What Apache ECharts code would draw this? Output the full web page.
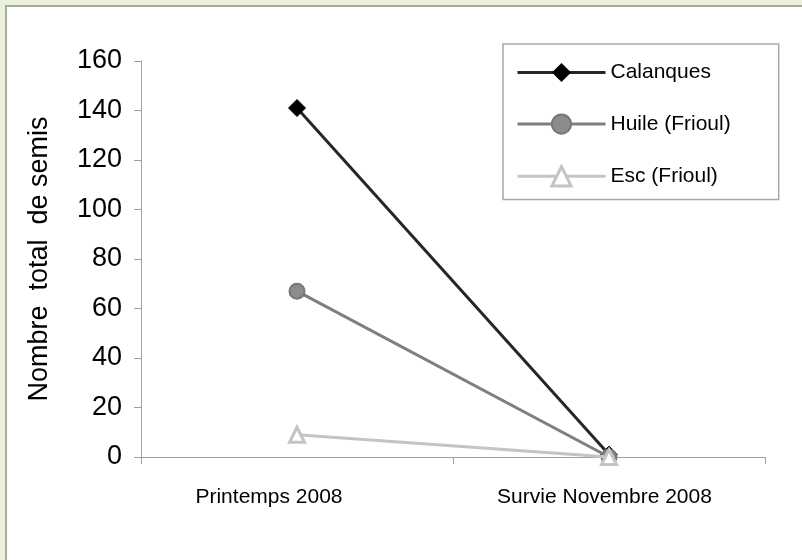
<!DOCTYPE html>
<html><head><meta charset="utf-8">
<script src="https://cdn.jsdelivr.net/npm/echarts@6/dist/echarts.min.js"></script>
<style>
html,body{margin:0;padding:0;width:802px;height:560px;overflow:hidden;background:#e9f0dc;}
#frame{position:absolute;left:5px;top:5px;width:820px;height:600px;background:#fff;border-left:2px solid #a8a8a8;border-top:2px solid #a8a8a8;}
#c{position:absolute;left:0;top:0;width:802px;height:560px;}
</style></head>
<body><div id="frame"></div><div id="c"></div>
<script>
const categories = ['Printemps 2008', 'Survie Novembre 2008'];
const calanques = [141, 1];
const huile = [67, 0];
const esc = [9, 0];
const yTicks = [0, 20, 40, 60, 80, 100, 120, 140, 160];
const yName = 'Nombre  total  de semis';

const chart = echarts.init(document.getElementById('c'), null, {renderer:'canvas'});
const font = 'Liberation Sans, Arial, sans-serif';
chart.setOption({
  animation:false,
  backgroundColor:'transparent',
  textStyle:{fontFamily:font},
  grid:{left:141, right:37, top:61, bottom:103},
  legend:{
    orient:'vertical', left:503, top:44,
    padding:[18, 48, 12, 13],
    borderColor:'#a8a8a8', borderWidth:1.5, backgroundColor:'#fff',
    itemWidth:88, itemHeight:24, itemGap:30.5,
    textStyle:{fontSize:21, color:'#000', fontFamily:font},
    data:[
      {name:'Calanques', lineStyle:{width:3}},
      {name:'Huile (Frioul)', lineStyle:{width:3}},
      {name:'Esc (Frioul)', lineStyle:{width:3}, itemStyle:{borderWidth:3}}
    ]
  },
  xAxis:{
    type:'category', data:categories, boundaryGap:true,
    axisLine:{lineStyle:{color:'#a0a0a0', width:1}},
    axisTick:{show:true, length:7, lineStyle:{color:'#a0a0a0'}},
    axisLabel:{color:'#000', fontSize:21, margin:30, fontFamily:font, interval:0, hideOverlap:false,
      formatter:function(v, i){return (i===0?'{a|':'{b|') + v + '}';},
      rich:{a:{fontSize:21, fontFamily:font, color:'#000', padding:[0,56,0,0]},
            b:{fontSize:21, fontFamily:font, color:'#000', padding:[0,9,0,0]}}}
  },
  yAxis:{
    type:'value', min:0, max:160, interval:20,
    name:yName, nameLocation:'middle', nameGap:88, nameRotate:90,
    nameTextStyle:{fontSize:27, color:'#000', fontFamily:font},
    axisLine:{show:true, lineStyle:{color:'#a0a0a0'}},
    axisTick:{show:true, length:7, lineStyle:{color:'#a0a0a0'}},
    axisLabel:{color:'#000', fontSize:27, margin:19, fontFamily:font,
      formatter:function(v){return yTicks.indexOf(v)>=0? String(v):'';}},
    splitLine:{show:false}
  },
  series:[
    {name:'Calanques', type:'line', data:calanques, symbol:'diamond', symbolSize:17,
      lineStyle:{color:'#262626', width:3}, itemStyle:{color:'#000', borderColor:'#000'}, z:3},
    {name:'Huile (Frioul)', type:'line', data:huile, symbol:'circle', symbolSize:15,
      lineStyle:{color:'#7f7f7f', width:3}, itemStyle:{color:'#8c8c8c', borderColor:'#777', borderWidth:2}, z:4},
    {name:'Esc (Frioul)', type:'line', data:esc, symbol:'triangle', symbolSize:15,
      lineStyle:{color:'#c4c4c4', width:3}, itemStyle:{color:'#fff', borderColor:'#c4c4c4', borderWidth:3}, z:5}
  ]
});
</script></body></html>
